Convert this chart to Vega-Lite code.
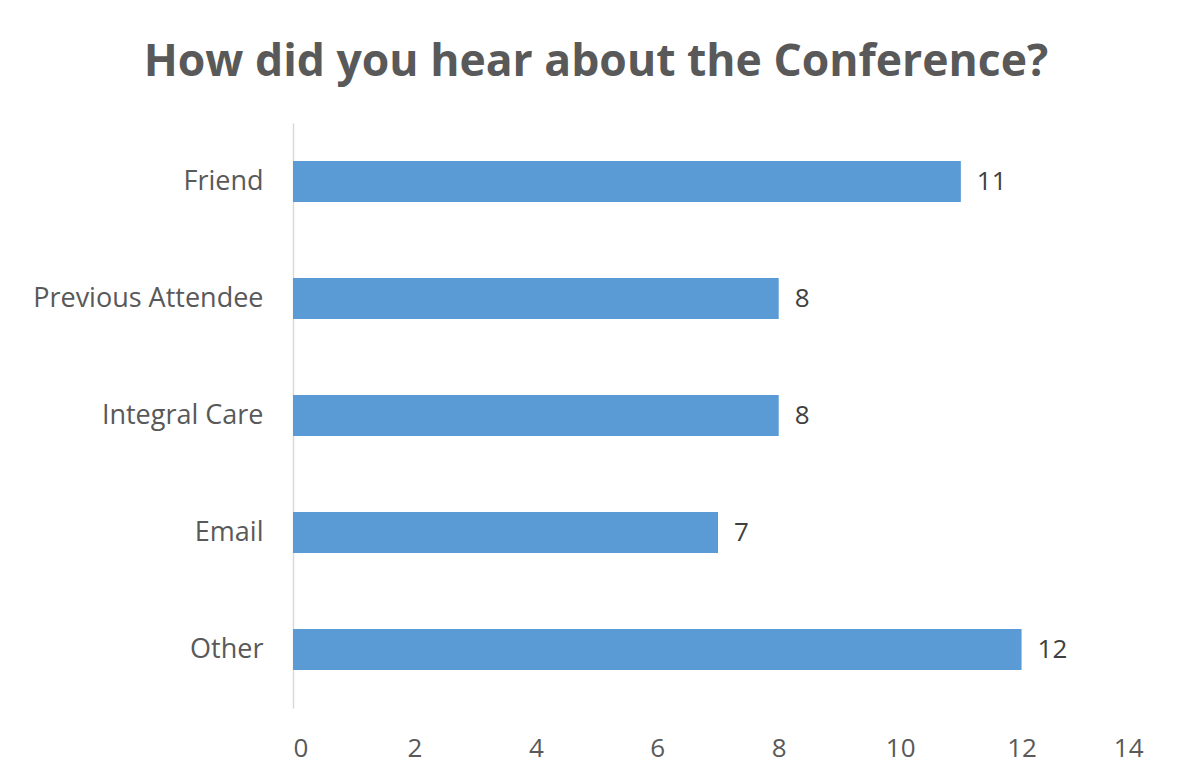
{
  "$schema": "https://vega.github.io/schema/vega-lite/v6.json",
  "autosize": "none",
  "width": 850,
  "height": 585,
  "padding": {"left": 293, "top": 123, "right": 41, "bottom": 74},
  "background": "white",
  "title": {
    "text": "How did you hear about the Conference?",
    "font": "Open Sans",
    "fontSize": 44.5,
    "fontWeight": "bold",
    "color": "#595959",
    "anchor": "middle",
    "dx": -122,
    "offset": 38
  },
  "data": {
    "values": [
      {"source": "Friend", "count": 11},
      {"source": "Previous Attendee", "count": 8},
      {"source": "Integral Care", "count": 8},
      {"source": "Email", "count": 7},
      {"source": "Other", "count": 12}
    ]
  },
  "encoding": {
    "y": {
      "field": "source",
      "type": "nominal",
      "sort": null,
      "scale": {"paddingInner": 0.65, "paddingOuter": 0.325},
      "axis": {
        "title": null,
        "ticks": false,
        "domainColor": "#d9d9d9",
        "domainWidth": 1.5,
        "labelFont": "Open Sans",
        "labelFontSize": 27,
        "labelColor": "#595959",
        "labelPadding": 30,
        "labelLimit": 400
      }
    },
    "x": {
      "field": "count",
      "type": "quantitative",
      "scale": {"domain": [0, 14], "nice": false},
      "axis": {
        "title": null,
        "values": [0, 2, 4, 6, 8, 10, 12, 14],
        "grid": false,
        "domain": false,
        "ticks": false,
        "labelFont": "Open Sans",
        "labelFontSize": 26,
        "labelColor": "#595959",
        "labelPadding": 27
      }
    }
  },
  "layer": [
    {"mark": {"type": "bar", "color": "#5B9BD5"}},
    {
      "mark": {"type": "text", "align": "left", "dx": 16, "font": "Open Sans", "fontSize": 26, "color": "#404040"},
      "encoding": {"text": {"field": "count", "type": "quantitative"}}
    }
  ],
  "config": {"view": {"stroke": null}}
}
